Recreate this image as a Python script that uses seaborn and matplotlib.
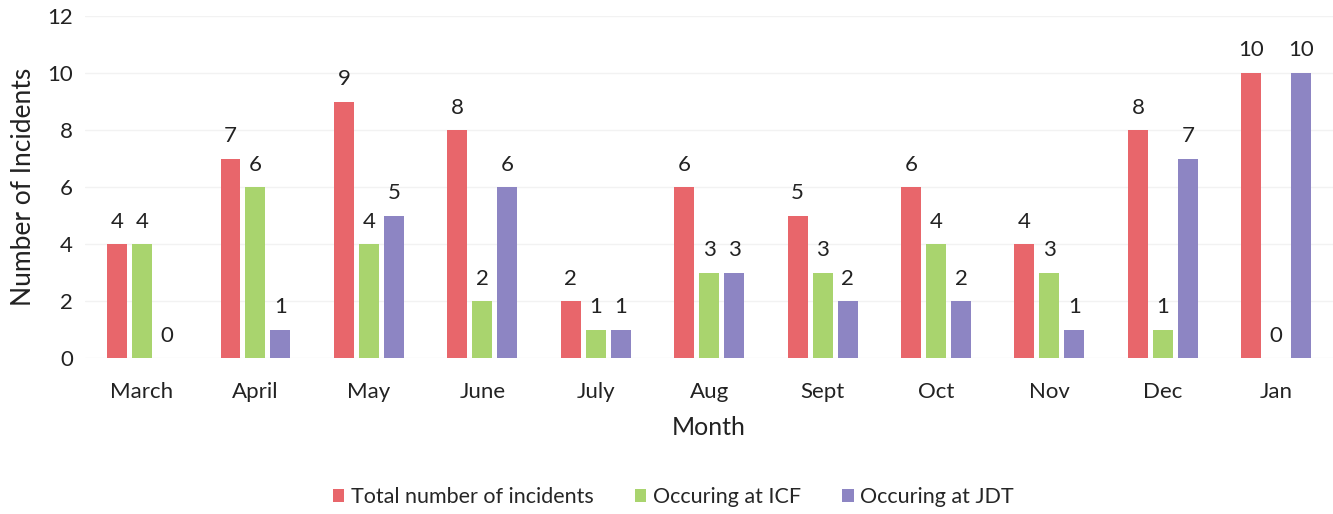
import pandas as pd
import matplotlib.pyplot as plt
import seaborn as sns

months = ["March", "April", "May", "June", "July", "Aug", "Sept", "Oct", "Nov", "Dec", "Jan"]
total = [4, 7, 9, 8, 2, 6, 5, 6, 4, 8, 10]
icf = [4, 6, 4, 2, 1, 3, 3, 4, 3, 1, 0]
jdt = [0, 1, 5, 6, 1, 3, 2, 2, 1, 7, 10]

series = ["Total number of incidents", "Occuring at ICF", "Occuring at JDT"]
colors = ["#e8666b", "#a9d46e", "#8d85c3"]

df = pd.DataFrame({"Month": months, series[0]: total, series[1]: icf, series[2]: jdt})
df = df.melt(id_vars="Month", var_name="Serie", value_name="Count")

sns.set_style("white")
plt.rcParams["font.family"] = ["Lato", "DejaVu Sans"]

fig = plt.figure(figsize=(13.33, 5.14), dpi=100)
ax = fig.add_axes([0.064, 0.303, 0.936, 0.666])

sns.barplot(data=df, x="Month", y="Count", hue="Serie", hue_order=series,
            palette=colors, width=0.66, gap=0.2, saturation=1, linewidth=0,
            ax=ax)

# etiketler
for cont in ax.containers:
    ax.bar_label(cont, padding=9, fontsize=16, color="#222222")

ax.set_ylim(0, 12)
ax.set_yticks(range(0, 13, 2))
ax.set_xlim(-0.5, 10.5)
ax.yaxis.grid(True, color="#f2f2f2", linewidth=1)
ax.set_axisbelow(True)
sns.despine(ax=ax, left=True, bottom=True)
ax.tick_params(axis="both", length=0, labelsize=16, colors="#222222")
ax.tick_params(axis="x", pad=17)
ax.tick_params(axis="y", pad=9)
ax.set_xlabel("Month", fontsize=18, color="#222222", labelpad=10)
ax.set_ylabel("Number of Incidents", fontsize=19, color="#222222", labelpad=8)

ax.legend_.remove()
handles, labels = ax.get_legend_handles_labels()
fig.legend(handles, labels, loc="center", bbox_to_anchor=(0.505, 0.033), ncol=3,
           frameon=False, fontsize=15.5, handlelength=0.55, handleheight=0.55,
           handletextpad=0.3, columnspacing=1.9)

fig.savefig("out.png", dpi=100)
